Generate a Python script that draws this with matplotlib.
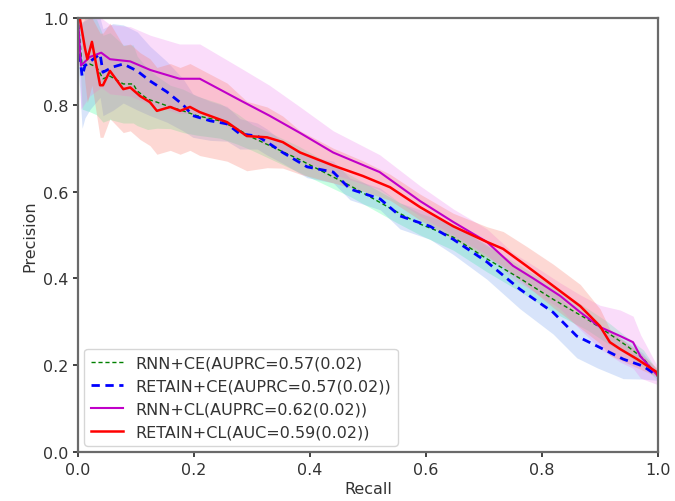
import numpy as np
import matplotlib
matplotlib.use("Agg")
import matplotlib.pyplot as plt

# ---------------- data ----------------
rnn_ce_recall = [0.0, 0.007, 0.02, 0.032, 0.043, 0.055, 0.078, 0.095, 0.102, 0.12, 0.136,
                 0.159, 0.181, 0.205, 0.245, 0.275, 0.30, 0.38, 0.47, 0.55, 0.59, 0.647,
                 0.705, 0.762, 0.819, 0.878, 0.912, 0.947, 0.975, 1.0]
rnn_ce_prec = [1.0, 0.89, 0.894, 0.887, 0.86, 0.866, 0.848, 0.848, 0.832, 0.813, 0.806,
               0.795, 0.786, 0.775, 0.763, 0.744, 0.725, 0.675, 0.613, 0.553, 0.525, 0.495,
               0.445, 0.40, 0.352, 0.306, 0.276, 0.244, 0.215, 0.175]
rnn_ce_half = [0.0, 0.10, 0.11, 0.11, 0.10, 0.10, 0.09, 0.09, 0.08, 0.07, 0.06,
               0.05, 0.05, 0.045, 0.04, 0.035, 0.03, 0.03, 0.025, 0.025, 0.025, 0.03,
               0.03, 0.03, 0.03, 0.025, 0.025, 0.02, 0.02, 0.01]

retain_ce_recall = [0.0, 0.007, 0.012, 0.021, 0.038, 0.043, 0.06, 0.078, 0.102, 0.124,
                    0.153, 0.181, 0.198, 0.228, 0.257, 0.279, 0.309, 0.326, 0.353, 0.395,
                    0.44, 0.469, 0.521, 0.555, 0.607, 0.647, 0.705, 0.762, 0.819, 0.86,
                    0.895, 0.94, 0.974, 1.0]
retain_ce_prec = [0.95, 0.866, 0.89, 0.90, 0.917, 0.875, 0.887, 0.894, 0.878, 0.855,
                  0.83, 0.80, 0.775, 0.763, 0.756, 0.733, 0.728, 0.714, 0.69, 0.657,
                  0.645, 0.606, 0.583, 0.544, 0.52, 0.49, 0.438, 0.375, 0.322, 0.267,
                  0.244, 0.214, 0.198, 0.175]
retain_ce_half = [0.05, 0.12, 0.12, 0.11, 0.10, 0.10, 0.10, 0.09, 0.09, 0.08,
                  0.07, 0.06, 0.05, 0.045, 0.04, 0.035, 0.03, 0.03, 0.025, 0.025,
                  0.025, 0.025, 0.025, 0.03, 0.03, 0.035, 0.04, 0.045, 0.05, 0.05,
                  0.05, 0.045, 0.03, 0.01]

rnn_cl_recall = [0.0, 0.005, 0.02, 0.04, 0.055, 0.09, 0.125, 0.175, 0.21, 0.28, 0.33,
                 0.383, 0.44, 0.52, 0.59, 0.647, 0.705, 0.75, 0.785, 0.831, 0.866, 0.90,
                 0.935, 0.957, 0.97, 0.99, 1.0]
rnn_cl_prec = [1.0, 0.89, 0.91, 0.92, 0.905, 0.90, 0.88, 0.86, 0.86, 0.81, 0.775,
               0.735, 0.69, 0.645, 0.578, 0.53, 0.484, 0.429, 0.40, 0.36, 0.322, 0.288,
               0.267, 0.253, 0.22, 0.19, 0.175]
rnn_cl_half = [0.0, 0.10, 0.09, 0.08, 0.08, 0.08, 0.08, 0.08, 0.08, 0.075, 0.07,
               0.06, 0.05, 0.04, 0.035, 0.03, 0.03, 0.03, 0.03, 0.03, 0.04, 0.05,
               0.06, 0.06, 0.05, 0.03, 0.02]

retain_cl_recall = [0.0, 0.003, 0.012, 0.016, 0.024, 0.038, 0.043, 0.055, 0.078, 0.09,
                    0.107, 0.124, 0.136, 0.159, 0.176, 0.193, 0.21, 0.257, 0.291, 0.326,
                    0.353, 0.383, 0.44, 0.491, 0.538, 0.59, 0.647, 0.705, 0.733, 0.773,
                    0.819, 0.866, 0.90, 0.917, 0.935, 0.964, 0.998, 1.0]
retain_cl_prec = [1.0, 1.0, 0.93, 0.905, 0.945, 0.845, 0.845, 0.878, 0.836, 0.84,
                  0.82, 0.806, 0.786, 0.795, 0.786, 0.795, 0.783, 0.76, 0.728, 0.725,
                  0.714, 0.69, 0.66, 0.636, 0.61, 0.564, 0.52, 0.484, 0.468, 0.429,
                  0.383, 0.336, 0.29, 0.253, 0.237, 0.214, 0.184, 0.175]
retain_cl_half = [0.0, 0.02, 0.08, 0.10, 0.10, 0.12, 0.12, 0.11, 0.10, 0.10,
                  0.10, 0.10, 0.10, 0.10, 0.10, 0.10, 0.10, 0.09, 0.08, 0.07,
                  0.06, 0.05, 0.04, 0.035, 0.03, 0.03, 0.03, 0.035, 0.04, 0.045,
                  0.05, 0.05, 0.04, 0.03, 0.025, 0.02, 0.01, 0.01]

labels = ["RNN+CE(AUPRC=0.57(0.02)",
          "RETAIN+CE(AUPRC=0.57(0.02))",
          "RNN+CL(AUPRC=0.62(0.02))",
          "RETAIN+CL(AUC=0.59(0.02))"]

x_ticks = [0.0, 0.2, 0.4, 0.6, 0.8, 1.0]
y_ticks = [0.0, 0.2, 0.4, 0.6, 0.8, 1.0]

# ---------------- plot ----------------
fig = plt.figure(figsize=(6.75, 5.02), dpi=100)
ax = fig.add_axes([0.1156, 0.0976, 0.8592, 0.8646])

series = [
    (rnn_ce_recall, rnn_ce_prec, rnn_ce_half, "green", (0, (3, 2)), 1.0, "springgreen", 0.22),
    (retain_ce_recall, retain_ce_prec, retain_ce_half, "blue", (0, (3, 2)), 2.0, "cornflowerblue", 0.25),
    (rnn_cl_recall, rnn_cl_prec, rnn_cl_half, "#c000c8", "-", 1.5, "violet", 0.28),
    (retain_cl_recall, retain_cl_prec, retain_cl_half, "red", "-", 1.8, "salmon", 0.30),
]

for (r, p, h, col, ls, lw, fc, al), lab in zip(series, labels):
    r = np.asarray(r); p = np.asarray(p); h = np.asarray(h)
    ax.fill_between(r, np.clip(p - h, 0, 1), np.clip(p + h, 0, 1), color=fc, alpha=al, lw=0)

for (r, p, h, col, ls, lw, fc, al), lab in zip(series, labels):
    ax.plot(r, p, color=col, linestyle=ls, linewidth=lw, label=lab)

ax.set_xlim(0, 1)
ax.set_ylim(0, 1)
ax.set_xticks(x_ticks)
ax.set_yticks(y_ticks)
ax.set_xticklabels([f"{t:.1f}" for t in x_ticks])
ax.set_yticklabels([f"{t:.1f}" for t in y_ticks])
ax.tick_params(labelsize=11.5, colors="#333333", width=1.3)
for s in ax.spines.values():
    s.set_color("#6a6a6a")
    s.set_linewidth(1.6)
ax.set_xlabel("Recall", fontsize=11.5, color="#333333", labelpad=3)
ax.set_ylabel("Precision", fontsize=11.5, color="#333333")
leg = ax.legend(loc="lower left", fontsize=11.5, frameon=True, borderaxespad=0.4)
for t in leg.get_texts():
    t.set_color("#333333")

fig.savefig("out.png", dpi=100)
